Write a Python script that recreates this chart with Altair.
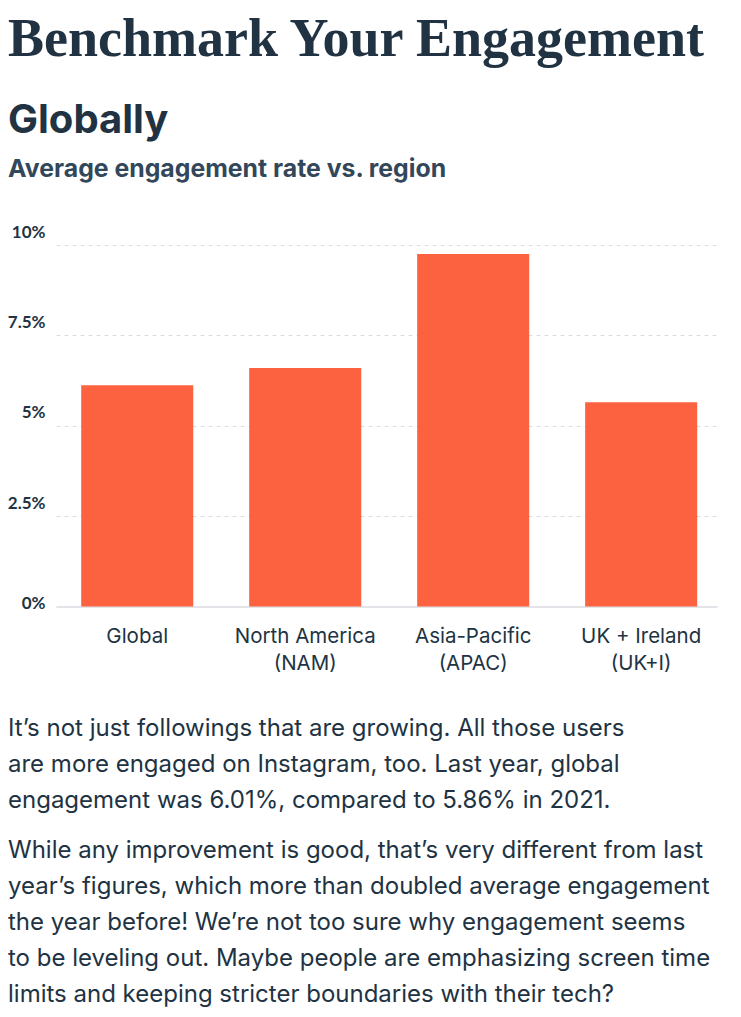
import altair as alt
import pandas as pd

regions = ["Global", "North America (NAM)", "Asia-Pacific (APAC)", "UK + Ireland (UK+I)"]
rates = [6.12, 6.6, 9.75, 5.65]
y_ticks = [0, 2.5, 5, 7.5, 10]

heading = "Benchmark Your Engagement"
section = "Globally"
subtitle = "Average engagement rate vs. region"
para1 = [
    "It\u2019s not just followings that are growing. All those users",
    "are more engaged on Instagram, too. Last year, global",
    "engagement was 6.01%, compared to 5.86% in 2021.",
]
para2 = [
    "While any improvement is good, that\u2019s very different from last",
    "year\u2019s figures, which more than doubled average engagement",
    "the year before! We\u2019re not too sure why engagement seems",
    "to be leveling out. Maybe people are emphasizing screen time",
    "limits and keeping stricter boundaries with their tech?",
]

df = pd.DataFrame({"region": regions, "rate": rates})

SANS = "Inter, Lato, 'Noto Sans', sans-serif"
SERIF = "'Liberation Serif', 'DejaVu Serif', serif"
DARK = "#213343"

bars = alt.Chart(df).mark_bar(color="#fc6240").encode(
    x=alt.X(
        "region:N",
        sort=regions,
        title=None,
        scale=alt.Scale(paddingInner=0.333, paddingOuter=0.134, align=0.56),
        axis=alt.Axis(
            labelAngle=0,
            ticks=False,
            grid=False,
            domain=True,
            domainColor="#e2e4e8",
            domainWidth=2,
            labelFont=SANS,
            labelFontSize=20.5,
            labelColor=DARK,
            labelBaseline="top",
            labelPadding=20,
            labelLineHeight=27,
            labelExpr="indexof(datum.label, ' (') > 0 ? [substring(datum.label, 0, indexof(datum.label, ' (')), substring(datum.label, indexof(datum.label, ' (') + 1)] : datum.label",
        ),
    ),
    y=alt.Y(
        "rate:Q",
        title=None,
        scale=alt.Scale(domain=[0, 10], nice=False),
        axis=alt.Axis(
            values=y_ticks,
            labelExpr="datum.value + '%'",
            ticks=False,
            domain=False,
            grid=True,
            gridColor="#dedede",
            gridDash=[4, 4],
            gridWidth=1,
            labelFont="Lato, Inter, sans-serif",
            labelFontSize=17,
            labelFontWeight="bold",
            labelColor=DARK,
            labelPadding=11,
            labelBaseline="middle",
            labelOffset={"condition": {"test": "datum.value === 0", "value": -3}, "value": -13},
        ),
    ),
)

one = alt.Data(values=[{}])

h1 = alt.Chart(one).mark_text(
    text=heading, font=SERIF, fontSize=54, fontWeight="bold", color=DARK,
    align="left", baseline="alphabetic",
).encode(x=alt.value(-48), y=alt.value(-189))

h2 = alt.Chart(one).mark_text(
    text=section, font=SANS, fontSize=40, fontWeight="bold", color=DARK,
    align="left", baseline="alphabetic",
).encode(x=alt.value(-48), y=alt.value(-112))

h3 = alt.Chart(one).mark_text(
    text=subtitle, font=SANS, fontSize=24.8, fontWeight="bold", color="#33475b",
    align="left", baseline="alphabetic",
).encode(x=alt.value(-48), y=alt.value(-68))

p1 = alt.Chart(one).mark_text(
    text=para1, font=SANS, fontSize=24, color=DARK, lineHeight=36,
    align="left", baseline="alphabetic",
).encode(x=alt.value(-48), y=alt.value(491))

p2 = alt.Chart(one).mark_text(
    text=para2, font=SANS, fontSize=24, color=DARK, lineHeight=36,
    align="left", baseline="alphabetic",
).encode(x=alt.value(-48), y=alt.value(613))

chart = alt.layer(bars, h1, h2, h3, p1, p2).properties(
    width=661,
    height=361.5,
    padding={"left": 48, "top": 237, "right": 16, "bottom": 402},
    autosize=alt.AutoSizeParams(type="none"),
    background="white",
).configure_view(stroke="transparent", strokeWidth=0)

chart.save("out.html", embed_options={"renderer": "svg", "actions": False})
